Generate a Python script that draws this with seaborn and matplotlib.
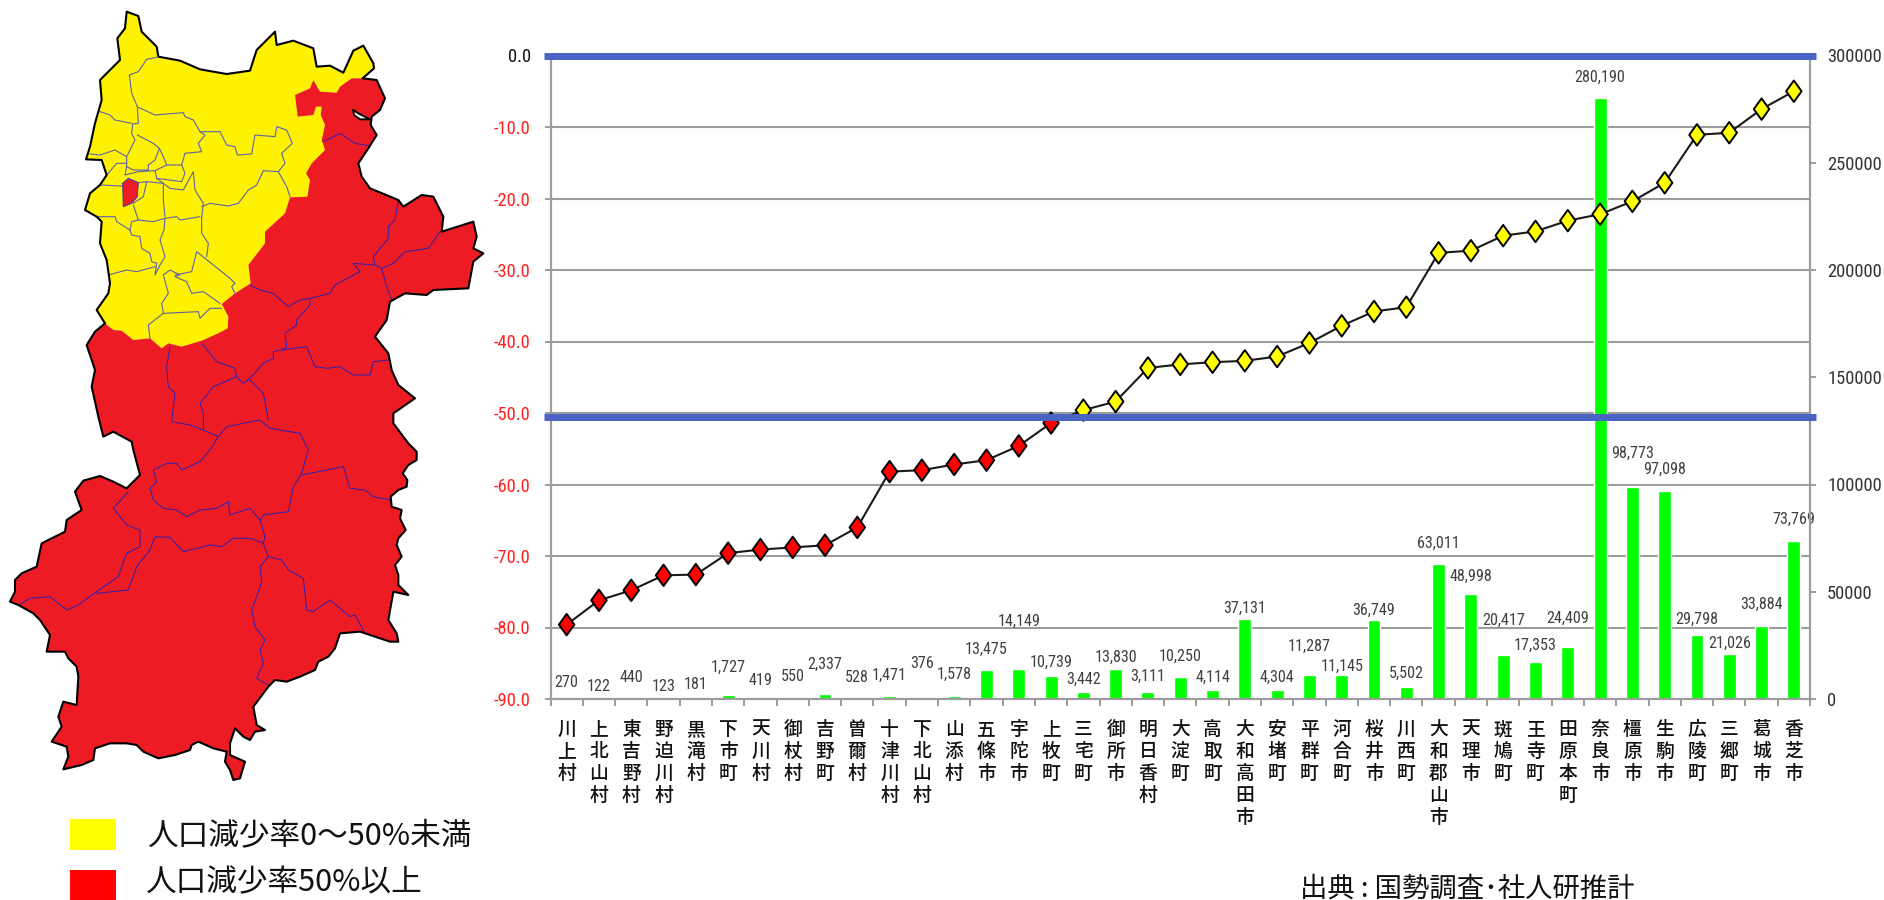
import numpy as np
import pandas as pd
import matplotlib
matplotlib.use("Agg")
import matplotlib.pyplot as plt
from matplotlib.path import Path
from matplotlib.patches import Polygon, Rectangle
import seaborn as sns

sns.set_theme(style="white")
plt.rcParams["font.family"] = ["Noto Sans CJK JP", "DejaVu Sans"]

NARROW = ["Roboto Condensed", "Archivo Narrow", "Liberation Sans"]
CJK = ["Noto Sans CJK JP", "DejaVu Sans"]

# Municipalities of Nara, ordered by projected decline
municipalities = ["川上村", "上北山村", "東吉野村", "野迫川村", "黒滝村", "下市町", "天川村", "御杖村",
                  "吉野町", "曽爾村", "十津川村", "下北山村", "山添村", "五條市", "宇陀市", "上牧町",
                  "三宅町", "御所市", "明日香村", "大淀町", "高取町", "大和高田市", "安堵町", "平群町",
                  "河合町", "桜井市", "川西町", "大和郡山市", "天理市", "斑鳩町", "王寺町", "田原本町",
                  "奈良市", "橿原市", "生駒市", "広陵町", "三郷町", "葛城市", "香芝市"]
population = [270, 122, 440, 123, 181, 1727, 419, 550, 2337, 528, 1471, 376, 1578, 13475, 14149,
              10739, 3442, 13830, 3111, 10250, 4114, 37131, 4304, 11287, 11145, 36749, 5502,
              63011, 48998, 20417, 17353, 24409, 280190, 98773, 97098, 29798, 21026, 33884, 73769]
decline_rate = [-79.6, -76.2, -74.8, -72.7, -72.6, -69.6, -69.1, -68.8, -68.5, -66.0, -58.2, -58.0,
                -57.2, -56.6, -54.6, -51.4, -49.6, -48.4, -43.7, -43.2, -42.9, -42.7, -42.1, -40.2,
                -37.8, -35.8, -35.2, -27.6, -27.3, -25.2, -24.6, -23.1, -22.2, -20.4, -17.8, -11.1,
                -10.8, -7.5, -5.0]

# Pixel gap between each bar top and its value label
label_lift = [16, 12, 21, 12, 14, 28, 18, 21, 30, 20, 21, 35, 21, 21, 47, 14, 12, 12, 16, 21, 13,
              11, 12, 28, 9, 10, 14, 21, 18, 35, 16, 28, 21, 34, 21, 16, 11, 22, 21]

# Prefecture outline, traced in a grid three times finer than the canvas
YELLOW_OUTER = [(315, 970), (290, 930), (325, 880), (330, 850), (320, 780), (300, 730), (305, 665),
                (290, 650), (255, 630), (270, 580), (300, 555), (320, 525), (305, 480), (258, 478),
                (270, 440), (285, 370), (305, 300), (300, 240), (360, 180), (352, 115), (375, 85),
                (380, 35), (415, 48), (425, 95), (470, 140), (475, 170), (540, 182), (600, 208),
                (680, 222), (750, 212), (770, 150), (825, 95), (830, 135), (880, 122), (940, 145),
                (950, 200), (990, 197), (1030, 218), (1060, 152), (1090, 137), (1120, 190),
                (1122, 205), (1088, 235)]
BORDER = [(1088, 235), (1055, 235), (1020, 260), (1010, 278), (960, 275), (940, 240), (930, 265),
          (885, 285), (893, 350), (940, 345), (948, 320), (965, 320), (962, 345), (975, 375),
          (965, 420), (975, 450), (935, 490), (918, 520), (930, 540), (922, 590), (870, 592),
          (855, 640), (795, 695), (795, 730), (745, 795), (752, 850), (705, 880), (665, 912),
          (685, 950), (683, 985), (655, 1000), (605, 1022), (545, 1040), (505, 1030), (485, 1045),
          (450, 1015), (400, 1020), (365, 992), (340, 990), (315, 970)]
RED_OUTER = [(1088, 235), (1130, 240), (1155, 295), (1140, 330), (1115, 350), (1112, 375), (1130, 405),
             (1105, 445), (1075, 490), (1085, 530), (1110, 565), (1195, 600), (1210, 620), (1265, 585),
             (1300, 590), (1330, 650), (1325, 695), (1420, 665), (1430, 710), (1420, 745), (1450, 760),
             (1420, 785), (1405, 865), (1300, 870), (1280, 885), (1215, 880), (1170, 905), (1160, 960),
             (1125, 1010), (1165, 1060), (1175, 1110), (1195, 1155), (1245, 1195), (1180, 1240),
             (1180, 1270), (1225, 1330), (1250, 1355), (1250, 1380), (1225, 1395), (1208, 1420), (1222, 1440),
             (1220, 1460), (1195, 1470), (1172, 1490), (1175, 1520), (1205, 1530), (1200, 1555), (1217, 1590),
             (1195, 1615), (1190, 1635), (1205, 1670), (1185, 1695), (1195, 1725), (1195, 1755), (1225, 1785),
             (1180, 1775), (1165, 1860), (1190, 1900), (1195, 1925), (1170, 1925), (1080, 1895), (1020, 1900),
             (1005, 1945), (985, 1970), (955, 1985), (945, 2010), (900, 2030), (860, 2045), (825, 2040),
             (805, 2060), (760, 2120), (770, 2175), (795, 2190), (765, 2195), (750, 2220), (730, 2210),
             (705, 2185), (690, 2230), (690, 2265), (735, 2285), (720, 2335), (700, 2340), (690, 2310),
             (675, 2285), (680, 2255), (640, 2245), (595, 2225), (575, 2235), (570, 2250), (525, 2265),
             (475, 2275), (430, 2255), (410, 2235), (380, 2230), (330, 2230), (285, 2245), (280, 2280),
             (245, 2295), (190, 2308), (205, 2270), (200, 2240), (155, 2225), (185, 2180), (175, 2150),
             (190, 2105), (230, 2115), (235, 2030), (230, 2000), (205, 1975), (195, 1955), (140, 1955),
             (150, 1905), (120, 1860), (100, 1840), (55, 1815), (30, 1805), (45, 1775), (45, 1740), (65, 1720),
             (110, 1700), (125, 1630), (195, 1595), (200, 1560), (245, 1530), (225, 1475), (250, 1442),
             (300, 1428), (340, 1445), (380, 1465), (420, 1425), (400, 1350), (395, 1325), (340, 1295),
             (310, 1310), (295, 1250), (275, 1160), (285, 1110), (260, 1035), (285, 995), (315, 970)]
ENCLAVE = [(368, 550), (385, 535), (415, 548), (412, 590), (395, 610), (370, 620)]
LAKE = [(1060, 330), (1075, 340), (1110, 358), (1080, 358), (1062, 345)]

# Boundaries between municipalities in the northern basin
NORTH_LINES = [
    [(470, 172), (440, 178), (415, 215), (388, 225), (395, 280), (412, 320), (415, 370), (398, 372),
     (395, 400), (405, 420), (380, 470), (380, 500)],
    [(415, 322), (465, 345), (550, 338), (555, 350), (580, 360), (600, 395), (660, 395), (680, 435),
     (705, 440), (712, 465), (755, 462), (765, 405), (825, 410), (830, 380), (860, 390), (877, 430),
     (845, 460), (855, 490), (835, 515), (790, 512), (770, 555), (745, 570), (715, 610), (685, 618),
     (630, 610), (605, 620)],
    [(300, 335), (330, 345), (345, 360), (395, 370)],
    [(270, 462), (300, 465), (345, 450), (380, 470)],
    [(320, 525), (350, 490), (380, 490)],
    [(412, 405), (460, 430), (478, 445), (490, 470), (500, 495), (545, 495), (555, 460), (605, 455),
     (595, 430), (615, 405), (600, 395)],
    [(478, 445), (465, 480), (445, 495), (445, 510), (400, 510), (380, 500), (375, 525), (415, 515),
     (465, 512), (500, 495)],
    [(465, 512), (470, 535), (545, 545), (555, 520), (545, 495)],
    [(300, 555), (365, 558)],
    [(415, 548), (440, 545), (490, 550), (490, 600), (495, 650)],
    [(470, 535), (490, 550), (510, 565), (550, 570), (580, 515), (585, 570), (610, 610), (605, 655),
     (605, 700), (625, 730), (620, 770)],
    [(400, 615), (415, 660), (395, 665), (390, 690), (350, 665), (345, 650), (290, 650)],
    [(415, 660), (460, 665), (495, 655), (530, 650), (540, 660), (600, 650)],
    [(440, 545), (430, 590), (400, 610)],
    [(390, 690), (395, 705), (420, 710), (425, 745), (450, 760), (455, 785), (470, 790), (465, 825),
     (480, 795), (495, 770), (480, 720), (492, 690), (495, 655)],
    [(325, 825), (380, 810), (410, 815), (465, 800)],
    [(490, 825), (510, 810), (540, 825), (525, 830), (560, 845), (575, 880), (610, 875), (660, 910)],
    [(490, 825), (505, 880), (485, 910), (490, 940), (445, 975), (450, 1015)],
    [(490, 940), (595, 935), (600, 955), (630, 925), (665, 925)],
    [(525, 825), (575, 815), (590, 755), (615, 775), (690, 835), (705, 850), (695, 860), (705, 880)],
    [(835, 515), (860, 560), (870, 590)],
]
# Boundaries between municipalities in the southern mountains
SOUTH_LINES = [
    [(970, 425), (1020, 400), (1065, 430), (1105, 437)],
    [(1195, 600), (1185, 660), (1165, 680), (1165, 715), (1120, 770), (1125, 795), (1145, 805),
     (1180, 790), (1215, 755), (1285, 745), (1320, 695)],
    [(1145, 805), (1160, 860), (1175, 900)],
    [(1125, 795), (1060, 790), (1080, 815), (1005, 855), (990, 880), (930, 895), (900, 900), (865, 920),
     (820, 880), (780, 870), (750, 855)],
    [(930, 895), (930, 915), (890, 960), (890, 975), (855, 1000), (860, 1040), (845, 1050), (820, 1055),
     (820, 1075), (790, 1090), (750, 1135), (730, 1150), (710, 1130), (705, 1105), (650, 1085), (605, 1030)],
    [(845, 1050), (920, 1040), (945, 1100), (980, 1105), (1020, 1100), (1060, 1125), (1110, 1125),
     (1120, 1085), (1165, 1080)],
    [(510, 1040), (500, 1100), (505, 1160), (525, 1180), (515, 1265), (570, 1275), (610, 1290), (655, 1310),
     (680, 1280), (780, 1260), (810, 1285), (900, 1300), (925, 1350), (905, 1420), (880, 1460), (865, 1535),
     (790, 1545), (780, 1560)],
    [(710, 1130), (640, 1160), (600, 1210), (610, 1240), (610, 1290)],
    [(750, 1140), (790, 1180), (805, 1260)],
    [(655, 1310), (630, 1350), (600, 1385), (545, 1410), (530, 1390), (500, 1390), (460, 1410), (470, 1445),
     (450, 1465), (460, 1500), (490, 1525), (530, 1530), (560, 1550), (600, 1530), (650, 1525), (685, 1505),
     (690, 1545), (750, 1525), (780, 1560), (795, 1610), (790, 1630), (805, 1670), (780, 1700), (785, 1745),
     (770, 1790), (755, 1830), (765, 1880), (795, 1920), (780, 1950), (790, 1990), (770, 2035), (805, 2055)],
    [(905, 1425), (1030, 1400), (1050, 1465), (1095, 1470), (1120, 1490), (1170, 1500)],
    [(385, 1475), (340, 1525), (380, 1575), (420, 1590), (420, 1640), (380, 1660), (355, 1730), (290, 1775),
     (235, 1815), (200, 1830), (150, 1790), (90, 1795), (55, 1815)],
    [(290, 1780), (385, 1770), (410, 1700), (450, 1650), (465, 1610), (510, 1612), (550, 1655), (630, 1635),
     (665, 1640), (700, 1615), (750, 1615), (790, 1630)],
    [(805, 1670), (845, 1680), (865, 1710), (910, 1735), (920, 1830), (940, 1835), (990, 1800), (1050, 1850),
     (1065, 1845), (1095, 1900)],
]

df = pd.DataFrame({"name": municipalities, "population": population, "rate": decline_rate})
df["group"] = np.where(df["rate"] <= -50, "over", "under")
df["pos"] = np.arange(len(df))

W, H, DPI = 1884, 900, 100
fig = plt.figure(figsize=(W / DPI, H / DPI), dpi=DPI, facecolor="white")

# Full-canvas layer for the map, its key and the source note
canvas = fig.add_axes([0, 0, 1, 1], zorder=0)
canvas.set_xlim(0, W)
canvas.set_ylim(H, 0)
canvas.axis("off")


def grid_xy(points):
    arr = np.asarray(points, dtype=float) / 3
    return arr[:, 0], arr[:, 1]


def outline(points, **kw):
    x, y = grid_xy(points)
    canvas.plot(x, y, solid_joinstyle="round", **kw)


def filled(points, color):
    x, y = grid_xy(points)
    canvas.add_patch(Polygon(np.column_stack([x, y]), closed=True, facecolor=color, edgecolor="none"))


filled(YELLOW_OUTER + BORDER, "#FFF200")
filled(RED_OUTER + BORDER[::-1], "#ED1C24")
for line in NORTH_LINES:
    outline(line, color="#5F62A8", lw=0.8)
for line in SOUTH_LINES:
    outline(line, color="#2B1FB0", lw=0.7)
filled(ENCLAVE, "#ED1C24")
outline(ENCLAVE + ENCLAVE[:1], color="#4A3FA0", lw=0.8)
outline(YELLOW_OUTER, color="black", lw=1.5)
outline(RED_OUTER, color="black", lw=1.5)
filled(LAKE, "white")
outline(LAKE + LAKE[:1], color="black", lw=1.4)

canvas.add_patch(Rectangle((70, 819), 46, 31, facecolor="#FFFF00", edgecolor="none"))
canvas.add_patch(Rectangle((70, 870), 46, 30, facecolor="#FF0000", edgecolor="none"))
canvas.text(148, 836, "人口減少率0～50%未満", fontsize=22.1, family=CJK, color="#111111", va="center", ha="left")
canvas.text(146, 883, "人口減少率50%以上", fontsize=22.1, family=CJK, color="#111111", va="center", ha="left")
canvas.text(1300, 889, "出典 : 国勢調査･社人研推計", fontsize=19.7, family=CJK, color="#111111", va="center", ha="left")

# Combination chart: population bars on the right scale, decline rate on the left
left, right, top, bottom = 550.5, 1810, 55.5, 699
rect = [left / W, 1 - bottom / H, (right - left) / W, (bottom - top) / H]
ax_pop = fig.add_axes(rect, zorder=1)
ax_rate = fig.add_axes(rect, zorder=2, sharex=ax_pop)
ax_rate.patch.set_alpha(0)
ax_pop.patch.set_alpha(0)

GRID = "#9C9C9C"
rate_ticks = np.arange(0, -100, -10)
ax_pop.hlines(rate_ticks, 0, 1, transform=ax_rate.get_yaxis_transform(), color=GRID, lw=1.5, zorder=0.5)

sns.barplot(data=df, x="name", y="population", color="#00FF00", saturation=1, width=0.4,
            ax=ax_pop, zorder=2, errorbar=None)
ax_pop.set_ylim(0, 300000)
ax_pop.set_xlim(-0.5, len(df) - 0.5)
ax_pop.set_xlabel("")
ax_pop.set_ylabel("")

for i, (value, lift) in enumerate(zip(population, label_lift)):
    ax_pop.annotate(f"{value:,}", (i, value), xytext=(0, lift), textcoords="offset pixels",
                    ha="center", va="center", fontsize=11.6, family=NARROW, color="#404040",
                    annotation_clip=False, zorder=6)

sns.lineplot(data=df, x="pos", y="rate", color="#1A1A1A", lw=1.5, ax=ax_rate, zorder=3,
             errorbar=None, sort=False)
diamond = Path([(0, 1), (0.72, 0), (0, -1), (-0.72, 0), (0, 1)], closed=True)
sns.scatterplot(data=df, x="pos", y="rate", hue="group", palette={"over": "#FF0000", "under": "#FFFF00"},
                marker=diamond, s=240, edgecolor="black", linewidth=1.4, ax=ax_rate, zorder=4,
                legend=False, clip_on=False)
ax_rate.set_ylim(-90, 0)
ax_rate.set_xlabel("")
ax_rate.set_ylabel("")

# Threshold bands across the whole plot
for level in (0, -50.55):
    ax_rate.plot([-0.005, 1.005], [level, level], transform=ax_rate.get_yaxis_transform(), color="#4A64C4",
                 lw=5, solid_capstyle="butt", clip_on=False, zorder=8)

# Left scale
ax_rate.set_yticks(rate_ticks)
ax_rate.set_yticklabels([f"{t:.1f}" for t in rate_ticks], family=NARROW, fontsize=13.3)
for tick, label in zip(rate_ticks, ax_rate.get_yticklabels()):
    label.set_color("#111111" if tick == 0 else "#FF2020")
ax_rate.tick_params(axis="y", which="major", left=True, right=False, length=4.3, width=1.4, color=GRID, pad=10)
ax_rate.tick_params(axis="x", which="both", bottom=False, labelbottom=False)

# Right scale
ax_pop.yaxis.tick_right()
ax_pop.set_yticks(np.arange(0, 300001, 50000))
ax_pop.set_yticklabels([str(v) for v in range(0, 300001, 50000)], family=NARROW, fontsize=13.3, color="#333333")
ax_pop.tick_params(axis="y", which="major", left=False, right=True, length=4.3, width=1.4, color=GRID, pad=8)

# Category names stacked one character per line, ticks on the category boundaries
ax_pop.set_xticks(np.arange(len(df)))
ax_pop.set_xticklabels(["\n".join(name) for name in municipalities], family=CJK, fontsize=13.5, fontweight="medium",
                       color="#111111", linespacing=1.2, rotation=0, va="top", ha="center")
ax_pop.set_xticks(np.arange(len(df) + 1) - 0.5, minor=True)
ax_pop.tick_params(axis="x", which="major", bottom=False, pad=9)
ax_pop.tick_params(axis="x", which="minor", bottom=True, length=5, width=1.4, color=GRID)

for ax in (ax_pop, ax_rate):
    for side, spine in ax.spines.items():
        spine.set_color(GRID)
        spine.set_linewidth(1.5)
        spine.set_visible(side in ("left", "right", "bottom"))

fig.savefig("out.png", dpi=DPI, facecolor="white")
